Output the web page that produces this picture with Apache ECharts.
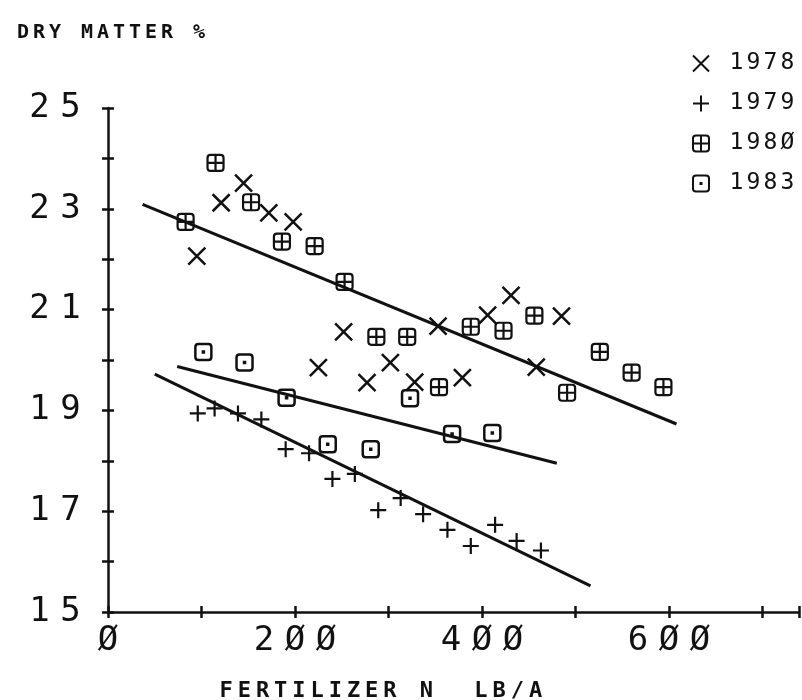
<!DOCTYPE html>
<html>
<head>
<meta charset="utf-8">
<title>Dry matter vs fertilizer N</title>
<script src="https://cdn.jsdelivr.net/npm/echarts@6.0.0/dist/echarts.min.js"></script>
<style>
  html, body { margin: 0; padding: 0; background: #fff; }
  #main { width: 802px; height: 700px; }
</style>
</head>
<body>
<div id="main"></div>
<script>
// values
const years = ["1978", "1979", "1980", "1983"];

const x1978 = [95, 121, 145, 172, 198, 225, 252, 277, 302, 328, 353, 379, 406, 431, 458, 485];
const y1978 = [22.06, 23.12, 23.51, 22.92, 22.74, 19.85, 20.56, 19.55, 19.95, 19.56, 20.67, 19.65, 20.89, 21.28, 19.86, 20.87];

const x1979 = [96, 114, 139, 164, 190, 215, 240, 264, 289, 313, 337, 363, 388, 414, 437, 463];
const y1979 = [18.94, 19.04, 18.94, 18.82, 18.23, 18.15, 17.64, 17.74, 17.02, 17.26, 16.94, 16.63, 16.31, 16.73, 16.41, 16.22];

const x1980 = [83, 115, 153, 186, 221, 253, 287, 320, 354, 388, 423, 456, 491, 526, 560, 594];
const y1980 = [22.74, 23.91, 23.13, 22.35, 22.26, 21.55, 20.46, 20.46, 19.46, 20.66, 20.58, 20.88, 19.35, 20.16, 19.75, 19.46];

const x1983 = [102, 146, 191, 235, 281, 323, 368, 411];
const y1983 = [20.16, 19.95, 19.25, 18.33, 18.23, 19.24, 18.53, 18.55];

// fitted lines (end points)
const fitUpperX = [37, 608];
const fitUpperY = [23.09, 18.73];
const fit1983X = [74, 480];
const fit1983Y = [19.87, 17.95];
const fit1979X = [50, 516];
const fit1979Y = [19.72, 15.52];

const yTicks = [15, 17, 19, 21, 23, 25];
const xTicks = [0, 200, 400, 600];

// plotter style symbols
const symX = "path://M0,0L16,16M16,0L0,16";
const symPlus = "path://M8,0V16M0,8H16";
const symBoxPlus = "path://M3,0H13Q16,0 16,3V13Q16,16 13,16H3Q0,16 0,13V3Q0,0 3,0Z M8,0V16 M0,8H16";
const symBoxDot = "path://M3,0H13Q16,0 16,3V13Q16,16 13,16H3Q0,16 0,13V3Q0,0 3,0Z M7.5,7.5H8.5V8.5H7.5Z";

const ink = "#111";
const mono = "'DejaVu Sans Mono', monospace";

function zip(xs, ys) {
  return xs.map(function(x, i) {
    return [x, ys[i]];
  });
}
function slashZero(s) {
  return String(s).replace(/0/g, "Ø");
}
// the pen plotter draws wide, evenly spaced letters: one rich cell per character
function cells(s, tag) {
  return String(s)
    .split("")
    .map(function(c) {
      return "{" + tag + "|" + c + "}";
    })
    .join("");
}
function cellStyle(w, size) {
  return { width: w, align: "center", fontFamily: mono, fontSize: size, color: ink };
}

const chart = echarts.init(document.getElementById("main"), null, { renderer: "canvas" });

function scatter(name, xs, ys, symbol, size, width) {
  return {
    name: name,
    type: "scatter",
    data: zip(xs, ys),
    symbol: symbol,
    symbolSize: size,
    itemStyle: { color: "rgba(0,0,0,0)", borderColor: ink, borderWidth: width, opacity: 1 },
    z: 3
  };
}
function fit(name, xs, ys) {
  return {
    name: name,
    type: "line",
    data: zip(xs, ys),
    symbol: "none",
    lineStyle: { color: ink, width: 3 },
    silent: true,
    z: 2
  };
}

const option = {
  backgroundColor: "#fff",
  animation: false,
  title: [
    {
      text: cells("DRY MATTER %", "t"),
      left: 10,
      top: 18,
      textStyle: { rich: { t: cellStyle(16, 20) } }
    },
    {
      text: cells("FERTILIZER N  LB/A", "a"),
      left: 212,
      top: 675,
      textStyle: { rich: { a: cellStyle(18.2, 22) } }
    }
  ],
  legend: {
    data: years,
    orient: "vertical",
    right: 1,
    top: 47,
    itemGap: 17,
    itemWidth: 16,
    itemHeight: 16,
    formatter: function(n) {
      return "{g|}" + cells(slashZero(n), "l");
    },
    textStyle: {
      lineHeight: 22,
      rich: {
        g: { width: 14 },
        l: cellStyle(17, 23)
      }
    }
  },
  grid: { left: 108, right: 0, top: 108, bottom: 88, containLabel: false },
  xAxis: [
    {
      type: "value",
      min: 0,
      max: 739,
      interval: 100,
      splitLine: { show: false },
      axisLine: { lineStyle: { color: ink, width: 2.5 } },
      axisTick: { length: 6, lineStyle: { color: ink, width: 2.5 } },
      axisLabel: {
        margin: 12,
        formatter: function(v) {
          return xTicks.indexOf(v) >= 0 ? cells(slashZero(v), "c") : "";
        },
        rich: { c: cellStyle(31, 34) }
      }
    },
    {
      // inner half of the crossing ticks
      type: "value",
      position: "bottom",
      min: 0,
      max: 739,
      interval: 100,
      splitLine: { show: false },
      axisLine: { show: false },
      axisTick: { inside: true, length: 6, lineStyle: { color: ink, width: 2.5 } },
      axisLabel: { show: false }
    }
  ],
  yAxis: [
    {
      type: "value",
      min: 15,
      max: 25,
      interval: 1,
      splitLine: { show: false },
      axisLine: { lineStyle: { color: ink, width: 2.5 } },
      axisTick: { length: 6, lineStyle: { color: ink, width: 2.5 } },
      axisLabel: {
        margin: 22,
        formatter: function(v) {
          return yTicks.indexOf(v) >= 0 ? cells(v, "c") : "";
        },
        rich: { c: cellStyle(31, 34) }
      }
    },
    {
      type: "value",
      position: "left",
      min: 15,
      max: 25,
      interval: 1,
      splitLine: { show: false },
      axisLine: { show: false },
      axisTick: { inside: true, length: 6, lineStyle: { color: ink, width: 2.5 } },
      axisLabel: { show: false }
    }
  ],
  series: [
    scatter("1978", x1978, y1978, symX, 17, 2.5),
    scatter("1979", x1979, y1979, symPlus, 16, 2.2),
    scatter("1980", x1980, y1980, symBoxPlus, 16, 2.2),
    scatter("1983", x1983, y1983, symBoxDot, 16, 2.5),
    fit("fit 1978/1980", fitUpperX, fitUpperY),
    fit("fit 1983", fit1983X, fit1983Y),
    fit("fit 1979", fit1979X, fit1979Y)
  ]
};
chart.setOption(option);
</script>
</body>
</html>
